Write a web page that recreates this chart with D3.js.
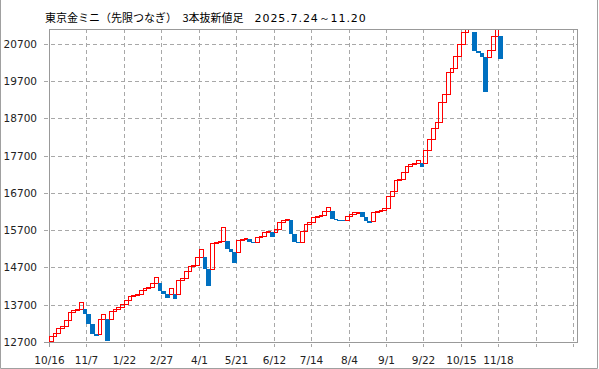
<!DOCTYPE html>
<html><head><meta charset="utf-8">
<script src="https://cdn.jsdelivr.net/npm/d3@7"></script>
<style>body{margin:0;background:#fff}svg{display:block}</style>
</head><body>
<script>
const titleMain = "東京金ミニ（先限つなぎ）　3本抜新値足　";
const titleDate = "2025.7.24～11.20";
const tickLabels = ["10/16","11/7","1/22","2/27","4/1","5/21","6/12","7/14","8/4","9/1","9/22","10/15","11/18","",""];
const yTicks = [12700,13700,14700,15700,16700,17700,18700,19700,20700];
const opens = [12727,12861,12950,13084,13137,13282,13497,13559,13586,13586,13443,13183,12923,12923,13309,13309,13309,13540,13578,13647,
13728,13819,13935,13961,13988,14096,14157,14168,14276,14276,14077,13996,13996,13996,13996,14364,14418,14606,14740,14759,
14990,14990,14651,14651,15349,15376,15419,15419,15188,15124,15124,15438,15465,15465,15376,15376,15510,15545,15652,15652,
15652,15720,15915,15961,15961,15591,15397,15397,15679,15854,15921,16050,16082,16114,16216,16216,15993,15974,15961,15961,
16074,16141,16181,16181,16063,15948,15948,16189,16221,16243,16289,16619,16753,17035,17080,17255,17432,17470,17497,17497,
17497,17853,18141,18452,18613,19134,19348,19939,20046,20376,20698,21012,21300,21012,20518,20449,20341,20341,20537,20913,
20913];
const closes = [12861,12950,13084,13137,13282,13497,13559,13586,13766,13443,13183,12923,12869,13309,13443,12735,13540,13578,13647,13728,
13819,13935,13961,13988,14096,14157,14168,14276,14445,14077,13996,13889,14141,13846,14364,14418,14606,14740,14759,14990,
15188,14651,14211,15349,15376,15419,15779,15188,15124,14828,15438,15465,15483,15376,15349,15510,15545,15652,15687,15510,
15720,15915,15961,16001,15591,15397,15371,15679,15854,15921,16050,16082,16114,16216,16315,15993,15974,15961,15948,16074,
16141,16181,16195,16063,15948,15886,16189,16221,16243,16289,16619,16753,17035,17080,17255,17432,17470,17497,17585,17405,
17853,18141,18452,18613,19134,19348,19939,20046,20376,20698,21012,21300,21500,20518,20449,20341,19402,20537,20913,21300,
20287];

const W = 599, H = 369;
const L = 49, R = 577, T = 29, B = 342;
const svg = d3.select("body").append("svg").attr("width", W).attr("height", H)
  .style("font-family", "'DejaVu Sans', sans-serif");

// outer frame
svg.append("path").attr("d", `M0.5,0 V368.5 H597.5 V0`).attr("fill", "none").attr("stroke", "#a0a0a0").attr("stroke-width", 1);

const x = d3.scaleLinear().domain([0, 141]).range([L, R]);
const y = d3.scaleLinear().domain([12700, 21100]).range([B, T]);

// horizontal grid + y ticks
const gy = svg.append("g");
yTicks.forEach(v => {
  const yy = Math.round(y(v)) + 0.5;
  gy.append("line").attr("x1", L - 5).attr("x2", R).attr("y1", yy).attr("y2", yy)
    .attr("stroke", v === 12700 ? "#999" : "#a8a8a8")
    .attr("stroke-dasharray", v === 12700 ? null : "4,3");
  gy.append("text").attr("x", 37).attr("y", yy).attr("dy", "0.36em").attr("text-anchor", "end")
    .attr("font-size", 10.5).attr("fill", "#222").text(v);
});
// vertical grid + x ticks
const gx = svg.append("g");
tickLabels.forEach((lab, k) => {
  const xx = Math.round(x(k * 10)) + 0.5;
  if (k > 0) gx.append("line").attr("x1", xx).attr("x2", xx).attr("y1", T).attr("y2", B + 5)
    .attr("stroke", "#a8a8a8").attr("stroke-dasharray", "4,3");
  else gx.append("line").attr("x1", xx).attr("x2", xx).attr("y1", B).attr("y2", B + 5).attr("stroke", "#999");
  if (lab) gx.append("text").attr("x", xx).attr("y", 364).attr("text-anchor", "middle")
    .attr("font-size", 10.5).attr("fill", "#222").text(lab);
});
// plot frame
svg.append("rect").attr("x", L + 0.5).attr("y", T + 0.5).attr("width", Math.round(R - L)).attr("height", B - T)
  .attr("fill", "none").attr("stroke", "#999");

// clip
svg.append("clipPath").attr("id", "clip").append("rect").attr("x", L).attr("y", T + 1).attr("width", R - L).attr("height", B - T);
const gb = svg.append("g").attr("clip-path", "url(#clip)");

const bricks = closes.map((c, i) => ({ i, o: opens[i], c, up: c > opens[i] }));
bricks.forEach(d => {
  const x0 = Math.round(x(d.i)), x1 = Math.round(x(d.i + 1));
  const yt = Math.round(y(Math.max(d.o, d.c))), yb = Math.round(y(Math.min(d.o, d.c)));
  if (d.up) {
    gb.append("rect").attr("x", x0 + 0.5).attr("y", yt + 0.5).attr("width", x1 - x0).attr("height", Math.max(yb - yt, 1))
      .attr("fill", "none").attr("stroke", "#ff0000").attr("stroke-width", 1);
  } else {
    gb.append("rect").attr("x", x0).attr("y", yt).attr("width", x1 - x0 + 1).attr("height", Math.max(yb - yt, 1))
      .attr("fill", "#0070c0");
  }
});

// title
const t = svg.append("text").attr("x", 45).attr("y", 22).attr("fill", "#000");
t.append("tspan").style("font-family", "'Noto Sans CJK JP', sans-serif").attr("font-size", 11).text(titleMain);
t.append("tspan").style("font-family", "'DejaVu Sans', sans-serif").attr("font-size", 11)
  .attr("letter-spacing", 0.9).text(titleDate);
</script>
</body></html>
